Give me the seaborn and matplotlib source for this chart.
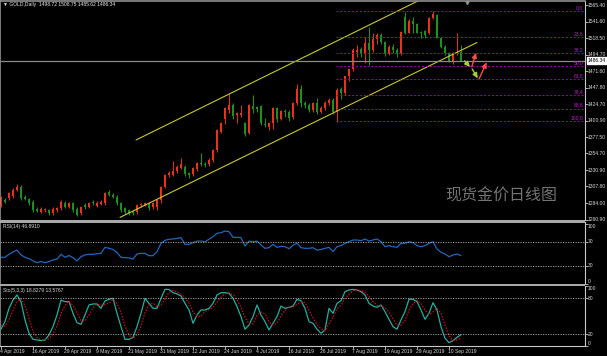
import numpy as np
import pandas as pd
import matplotlib
matplotlib.use("Agg")
import matplotlib.pyplot as plt
import matplotlib.transforms as mtransforms
from matplotlib.patches import Rectangle
import seaborn as sns

sns.set_style("dark")
plt.rcParams['font.family'] = ['Liberation Sans', 'DejaVu Sans']

# ---------------- data ----------------
opens = [1281,1289,1291,1294,1303,1307,1293,1290,1286,1276,
         1272,1274,1274,1270,1274,1277,1284,1279,1284,1276,
         1270,1282,1278,1286,1280,1283,1284,1300,1296,1293,
         1284,1277,1274,1272,1271,1281,1282,1284,1278,1278,
         1288,1307,1324,1324,1330,1334,1335,1327,1325,1332,
         1341,1340,1339,1345,1359,1385,1404,1416,1423,1409,
         1409,1398,1384,1422,1420,1422,1397,1392,1398,1419,
         1404,1415,1413,1406,1426,1446,1426,1424,1417,1426,
         1414,1419,1427,1430,1413,1446,1440,1464,1474,1499,
         1503,1496,1511,1502,1517,1523,1513,1496,1506,1502,
         1497,1548,1526,1542,1538,1527,1528,1526,1547,1551,
         1518,1506,1497,1484,1497,1498.72]
highs = [1294,1291,1300,1305,1311,1310,1295,1292,1288,1278,
         1278,1277,1276,1278,1279,1289,1287,1286,1286,1278,
         1280,1285,1286,1288,1287,1288,1300,1303,1298,1295,
         1286,1279,1276,1274,1283,1285,1286,1286,1286,1290,
         1309,1326,1330,1344,1338,1348,1338,1329,1336,1343,
         1356,1342,1348,1361,1390,1400,1421,1439,1426,1414,
         1423,1400,1425,1437,1422,1424,1405,1400,1421,1421,
         1417,1418,1416,1428,1453,1452,1429,1426,1428,1433,
         1422,1429,1433,1434,1447,1449,1465,1475,1504,1509,
         1506,1520,1534,1525,1525,1525,1514,1508,1510,1504,
         1528,1555,1545,1549,1540,1529,1530,1549,1557,1553,
         1520,1508,1499,1498,1525,1508.75]
lows = [1279,1284,1289,1292,1301,1289,1288,1282,1272,1271,
        1270,1272,1268,1268,1272,1275,1277,1277,1272,1266,
        1268,1276,1277,1282,1278,1281,1282,1294,1291,1282,
        1272,1269,1268,1267,1269,1279,1280,1275,1276,1275,
        1285,1305,1321,1322,1327,1332,1323,1320,1323,1330,
        1337,1335,1337,1343,1357,1383,1396,1412,1404,1398,
        1406,1380,1382,1412,1414,1395,1392,1388,1390,1400,
        1402,1407,1401,1403,1424,1420,1419,1413,1414,1410,
        1412,1416,1424,1411,1400,1432,1437,1457,1472,1491,
        1492,1483,1480,1499,1510,1510,1493,1494,1497,1491,
        1494,1524,1525,1525,1525,1518,1518,1524,1545,1518,
        1504,1495,1484,1482,1494,1485.62]
closes = [1291,1286,1298,1303,1307,1291,1290,1284,1274,1273,
          1276,1276,1270,1276,1277,1286,1279,1284,1274,1268,
          1278,1278,1284,1284,1285,1286,1298,1296,1293,1284,
          1274,1271,1270,1270,1281,1283,1284,1277,1284,1288,
          1307,1324,1327,1330,1335,1340,1325,1324,1334,1341,
          1339,1338,1346,1359,1388,1398,1419,1423,1408,1412,
          1412,1382,1423,1418,1418,1398,1395,1398,1419,1404,
          1415,1413,1405,1426,1446,1426,1423,1417,1426,1414,
          1419,1427,1430,1413,1445,1440,1464,1474,1501,1501,
          1496,1511,1502,1517,1523,1513,1496,1506,1502,1497,
          1527,1526,1542,1538,1526,1525,1523,1547,1553,1519,
          1506,1497,1484,1497,1498,1486.34]

rsi_values = [44,44,49,53,56,48,44,42,38,35,
              37,35,37,39.5,41,49,44,47,43.4,38,
              45,48,49,49,50,50.6,60.6,59,57,52,
              44,43.4,43,41,49.5,50.6,50.6,46.7,46.7,53.4,
              67.3,72.3,74,74.5,75.6,76.7,65.6,65.6,68.4,71,
              71,70,74,78.4,84,85,87.8,86.7,77.3,77.3,
              76.7,62.8,71,70,71,64.5,59,60,65.6,60.6,
              62.3,61.7,58.4,64,67.8,60,59,59,60,56,
              57,59,60.6,53.4,61.7,63.4,67.3,70,72.8,72.8,
              71.7,74.5,71,72.8,74.5,70,61.7,63.4,61.7,60.6,
              67.3,67.3,70,68.4,63.4,61.7,63.4,67.3,70,57.8,
              52.3,49.5,45,47.8,49.5,46.89]

sto_main = [28,41,63,77,85.6,74.4,43.6,21.2,11,10,
            8.8,10,18.4,32.4,52,77,74.4,74.4,54.8,39,
            36.3,52,68.8,70.5,70.5,63.2,75.5,78.3,80,54.8,
            32.4,11,11,14.4,32.4,54.8,80,71.6,63.2,63.2,
            80,95,95,89.5,87.3,84,71.6,60.4,38,52,
            60.4,60.4,63.2,71.6,85.6,89.5,89.5,88.4,80,66,
            49.2,28,35.2,49.2,68.8,52,40.8,26.8,38,49.2,
            67,63.2,64.9,67,78.3,76,63.2,40.8,38,28,
            21.2,26.8,63.2,54.8,71.6,76,91.2,94,95,94,
            91.2,85.6,71.6,67,64.9,68.8,57.6,44.7,32.4,28,
            43.6,57.6,78.3,78.3,74.4,60.4,44.7,54.8,72.7,60.4,
            32.4,12.8,5.5,8.8,14.4,18.83]
sto_signal = [35,33,44,60,75,79,68,46,25,14,
              10,10,12,20,34,54,68,75,68,56,
              43,42,52,64,70,68,70,72,78,71,
              56,33,18,12,19,34,56,69,72,66,
              69,79,90,93,91,87,81,72,57,50,
              50,58,61,65,73,82,88,89,86,78,
              65,48,37,37,51,57,54,40,35,38,
              51,60,65,65,70,74,73,60,47,36,
              29,25,37,48,63,68,80,87,93,94,
              93,90,83,75,68,67,64,57,45,35,
              35,43,60,71,77,71,60,53,57,63,
              55,35,17,9,10,13.58]

date_labels = ['4 Apr 2019','16 Apr 2019','29 Apr 2019','9 May 2019','21 May 2019',
               '31 May 2019','12 Jun 2019','24 Jun 2019','4 Jul 2019','16 Jul 2019',
               '26 Jul 2019','7 Aug 2019','19 Aug 2019','29 Aug 2019','10 Sep 2019']
price_tick_labels = ['1565.40','1541.60','1518.50','1494.70','1471.60','1447.80','1424.70',
                     '1400.90','1377.50','1354.70','1330.90','1307.80','1284.00','1260.90']
fib_labels = ['0.0','23.6','38.2','50.0','61.8','76.4','88.6','100.0']
fib_high, fib_low = 1557.0, 1400.5
fib_start_bar = 83.7
last_price = 1486.34
chan_lower_bars, chan_lower_prices = [29.75, 119.0], [1263.9, 1512.2]
chan_upper_bars, chan_upper_prices = [33.75, 110.0], [1373.8, 1587.3]
# (tail_bar, tail_price, head_bar, head_price, kind)
arrows = [(115.9, 1486.0, 117.25, 1477.4, 'down'),
          (117.7, 1477.8, 118.75, 1497.7, 'up'),
          (117.8, 1474.5, 119.2, 1461.3, 'down'),
          (119.5, 1460.4, 121.4, 1484.1, 'up')]
header = '\u25BC GOLD,Daily  1498.72 1508.75 1485.62 1486.34'
rsi_title = 'RSI(14) 46.8910'
sto_title = 'Sto(5,3,3) 18.8279 13.5767'
watermark = '现货金价日线图'

# ---------------- figure ----------------
W, H = 607, 356
FS = 3.6
fig = plt.figure(figsize=(W/100, H/100), dpi=100)
fig.patch.set_facecolor('black')

def rect(x0, y0, x1, y1):
    return [x0/W, 1 - y1/H, (x1-x0)/W, (y1-y0)/H]

ax = fig.add_axes(rect(0, 1, 585, 220))
ax_r = fig.add_axes(rect(0, 222.5, 585, 284))
ax_s = fig.add_axes(rect(0, 286, 585, 346))

AXC = '#c8c8c8'
TXT = '#d8d8d8'
for a in (ax, ax_r, ax_s):
    a.set_facecolor('black')
    a.grid(False)
    a.set_xlim(-0.25, 146)
    for s in a.spines.values():
        s.set_visible(False)
    a.spines['right'].set_visible(True)
    a.spines['right'].set_color(AXC)
    a.spines['right'].set_linewidth(0.8)
    a.spines['left'].set_visible(True)
    a.spines['left'].set_color('#909090')
    a.spines['left'].set_linewidth(1.2)
    a.tick_params(axis='both', which='both', labelleft=False, labelbottom=False,
                  left=False, bottom=False, right=True, length=2, width=0.6, color=AXC)
ax.spines['top'].set_visible(True)
ax.spines['top'].set_color('#909090')
ax.spines['top'].set_linewidth(1.2)
ax_s.spines['bottom'].set_visible(True)
ax_s.spines['bottom'].set_color(AXC)
ax_s.spines['bottom'].set_linewidth(0.8)

# separators
for y0, y1 in [(220, 222.5), (284, 286)]:
    fig.patches.append(Rectangle((0, 1 - y1/H), 585/W, (y1-y0)/H,
                                 transform=fig.transFigure, facecolor='#a8a8a8',
                                 edgecolor='none'))

# ---------------- price panel ----------------
ax.set_ylim(1260.2, 1571.1)
df = pd.DataFrame({'o': opens, 'h': highs, 'l': lows, 'c': closes})
df['bar'] = np.arange(len(df))
up = df['c'] >= df['o']
UPC, DNC = '#ff3018', '#1f8f1f'
UPW, DNW = '#d8341c', '#1f8f1f'
ax.vlines(df['bar'][up], df['l'][up], df['h'][up], color=UPW, lw=0.8)
ax.vlines(df['bar'][~up], df['l'][~up], df['h'][~up], color=DNW, lw=0.8)
body_lo = np.minimum(df['o'], df['c'])
body_h = np.maximum(np.abs(df['c'] - df['o']), 0.9)
ax.bar(df['bar'][up], body_h[up], bottom=body_lo[up], width=0.72, color=UPC, linewidth=0)
ax.bar(df['bar'][~up], body_h[~up], bottom=body_lo[~up], width=0.72, color=DNC, linewidth=0)

# channel
ax.plot(chan_lower_bars, chan_lower_prices, color='#c8c830', lw=0.8)
ax.plot(chan_upper_bars, chan_upper_prices, color='#c8c830', lw=0.8)

# fibonacci
blend = mtransforms.blended_transform_factory(ax.transAxes, ax.transData)
for lab in fib_labels:
    lvl = fib_high - float(lab) / 100.0 * (fib_high - fib_low)
    ax.hlines(lvl, fib_start_bar, 146, color='#a000a8', lw=0.7, linestyles=(0, (2, 2)))
    ax.text(0.997, lvl + 0.4, lab, transform=blend, ha='right', va='bottom',
            fontsize=FS, color='#c020c8')

# current price line
ax.axhline(last_price, color='#8a8a8a', lw=0.9)

# arrows
for tb, tp, hb, hp, kind in arrows:
    col = '#a8d030' if kind == 'down' else '#ff4a4a'
    ax.annotate('', xy=(hb, hp), xytext=(tb, tp),
                arrowprops=dict(arrowstyle='-|>,head_length=0.3,head_width=0.14',
                                color=col, lw=1.0, shrinkA=0, shrinkB=0))

# chart-shift marker
ax.plot([116.5], [1569.5], marker='v', color='#909090', markersize=3)

# price labels
ax.set_yticks([float(s) for s in price_tick_labels])
for s in price_tick_labels:
    ax.text(1.005, float(s), s, transform=blend, ha='left', va='center',
            fontsize=FS, color=TXT, clip_on=False)
ax.text(1.005, last_price, '1486.34', transform=blend, ha='left', va='center',
        fontsize=FS, color='black', clip_on=False,
        bbox=dict(facecolor='white', edgecolor='white', pad=0.6))

ax.text(0.005, 0.982, header, transform=ax.transAxes, ha='left', va='center',
        fontsize=FS, color='#e8e8e8')
fig.text(501/W, 1 - 196.5/H, watermark, ha='center', va='center', fontsize=11.5,
         color='#747474', family=['Noto Sans CJK SC', 'DejaVu Sans'])

# ---------------- RSI panel ----------------
ax_r.set_ylim(-0.5, 102)
rsi_df = pd.DataFrame({'bar': np.arange(len(rsi_values)), 'rsi': rsi_values})
sns.lineplot(data=rsi_df, x='bar', y='rsi', ax=ax_r, color='#2266bb', lw=0.9, legend=False)
for lv in (70, 30):
    ax_r.axhline(lv, color='#b0b0b0', lw=0.6, ls=(0, (1.5, 1.5)))
ax_r.set_yticks([0, 30, 70, 100])
blend_r = mtransforms.blended_transform_factory(ax_r.transAxes, ax_r.transData)
for v, va in [(100, 'top'), (70, 'center'), (30, 'center'), (0, 'bottom')]:
    ax_r.text(1.005, v, str(v), transform=blend_r, ha='left', va=va, fontsize=FS,
              color=TXT, clip_on=False)
ax_r.text(0.005, 0.93, rsi_title, transform=ax_r.transAxes, ha='left', va='center',
          fontsize=FS, color=TXT)
ax_r.set_xlabel(''); ax_r.set_ylabel('')
ax_r.set_xlim(-0.25, 146)

# ---------------- Stochastic panel ----------------
ax_s.set_ylim(-0.17, 100.7)
sto_df = pd.DataFrame({'bar': np.arange(len(sto_main)), 'main': sto_main, 'signal': sto_signal})
sns.lineplot(data=sto_df, x='bar', y='main', ax=ax_s, color='#20b0a0', lw=0.9, legend=False)
sns.lineplot(data=sto_df, x='bar', y='signal', ax=ax_s, color='#d01010', lw=0.9,
             linestyle=(0, (1.2, 1.2)), legend=False)
for lv in (80, 20):
    ax_s.axhline(lv, color='#b0b0b0', lw=0.6, ls=(0, (1.5, 1.5)))
ax_s.set_yticks([0, 20, 80, 100])
blend_s = mtransforms.blended_transform_factory(ax_s.transAxes, ax_s.transData)
for v, va in [(100, 'top'), (80, 'center'), (20, 'center'), (0, 'bottom')]:
    ax_s.text(1.005, v, str(v), transform=blend_s, ha='left', va=va, fontsize=FS,
              color=TXT, clip_on=False)
ax_s.text(0.005, 0.933, sto_title, transform=ax_s.transAxes, ha='left', va='center',
          fontsize=FS, color=TXT)
ax_s.set_xlabel(''); ax_s.set_ylabel('')
ax_s.set_xlim(-0.25, 146)

# date labels
label_bars = np.arange(0, 8 * len(date_labels), 8)
ax_s.set_xticks(label_bars)
ax_s.tick_params(axis='x', bottom=True, length=2, color=AXC)
blend_d = mtransforms.blended_transform_factory(ax_s.transData, ax_s.transAxes)
for b, lab in zip(label_bars, date_labels):
    ax_s.text(b - 0.2, -0.085, lab, transform=blend_d, ha='left', va='center',
              fontsize=FS, color=TXT, clip_on=False)

fig.savefig('out.png', dpi=100, facecolor='black')
